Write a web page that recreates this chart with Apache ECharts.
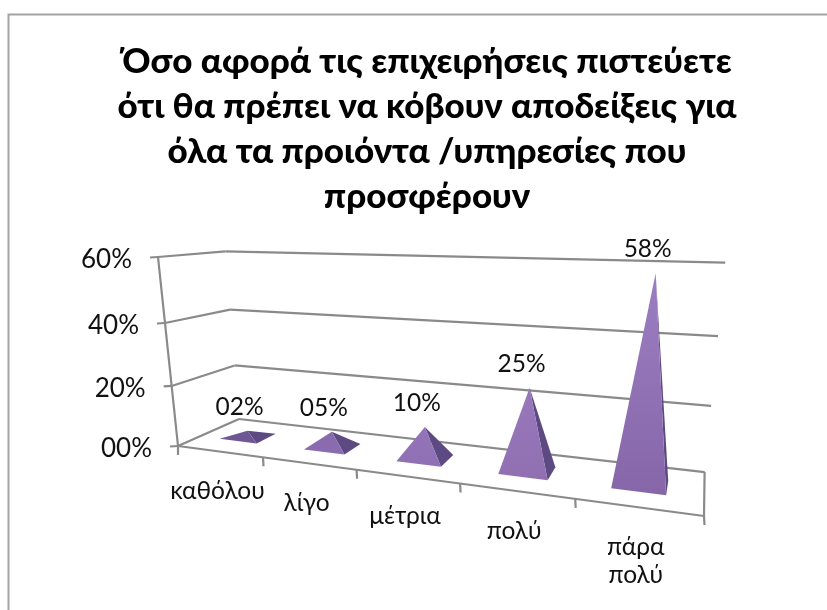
<!DOCTYPE html>
<html>
<head>
<meta charset="utf-8">
<style>html,body{margin:0;padding:0;background:#fff}#c{width:827px;height:610px}</style>
<script src="https://cdn.jsdelivr.net/npm/echarts@6/dist/echarts.min.js"></script>
</head>
<body>
<div id="c"></div>
<script>
const titleLines = [
  'Όσο αφορά τις επιχειρήσεις πιστεύετε',
  'ότι θα πρέπει να κόβουν αποδείξεις για',
  'όλα τα προιόντα /υπηρεσίες που',
  'προσφέρουν'
];
const categories = ['καθόλου', 'λίγο', 'μέτρια', 'πολύ', 'πάρα\nπολύ'];
const values = [2, 5, 10, 25, 58];
const valueTicks = [0, 20, 40, 60];

const W = 827, H = 610;
const FONT = 'Lato,"Open Sans","Noto Sans",sans-serif';
const FS = 24.5;
const LINE = '#8a8a8a';

// Perspective camera of the 3D box: x along categories, y up the value axis, z into depth (all 0..1)
const O = [178, 446], EX = [704, 516], EY = [158, 257], EZ = [239, 419];
const wx = -0.229, wy = -0.068, wz = 0.13;
const ax = [EX[0] * (1 + wx) - O[0], EX[1] * (1 + wx) - O[1]];
const ay = [EY[0] * (1 + wy) - O[0], EY[1] * (1 + wy) - O[1]];
const az = [EZ[0] * (1 + wz) - O[0], EZ[1] * (1 + wz) - O[1]];
function project(x, y, z) {
  const w = 1 + wx * x + wy * y + wz * z;
  return [0, 1].map(i => (O[i] + ax[i] * x + ay[i] * y + az[i] * z) / w);
}
// The hidden full-canvas grid supplies the scales; its pixels are normalised to 0..1
const fx = (api, c) => api.coord([c, 0])[0] / W;
const fy = (api, v) => (H - api.coord([0, v])[1]) / H;

function line(p, q, w) {
  return { type: 'line', shape: { x1: p[0], y1: p[1], x2: q[0], y2: q[1] },
           style: { stroke: LINE, lineWidth: w || 2.2 }, silent: true };
}
function text(t, x, y, opt) {
  return { type: 'text', silent: true,
           style: Object.assign({ text: t, x, y, fill: '#111', fontSize: FS, fontFamily: FONT,
                                  align: 'center', verticalAlign: 'middle' }, opt || {}) };
}

// Walls, floor, axis lines, ticks and axis labels
function renderFrame(params, api) {
  const v = api.value(0);
  const y = fy(api, v);
  const a = project(0, y, 0), b = project(0, y, 1), c = project(1, y, 1);
  const children = [line(a, b), line(b, c),
    line([a[0] - 8, a[1] + 0.5], a),
    text(String(v).padStart(2, '0') + '%', a[0] - 26, a[1] + 3, { align: 'right', fontSize: 26 })];
  if (params.dataIndex === 0) {
    const r = project(1, 0, 0);
    children.push(line(a, r), line(r, project(1, 0, 1)),
                  line(a, project(0, 1, 0)), line(a, [a[0], a[1] + 9]));
  }
  return { type: 'group', children };
}

// Category ticks and labels on the front floor edge
function renderCat(params, api) {
  const band = api.size([1, 0])[0] / W;
  const cx = fx(api, params.dataIndex);
  const t = project(cx + band / 2, 0, 0);
  const m = project(cx, 0, 0);
  return { type: 'group', children: [
    line(t, [t[0] + 0.5, t[1] + 9]),
    text(categories[params.dataIndex], m[0] - 2, m[1] + 26, { verticalAlign: 'top', lineHeight: 28 })
  ] };
}

const FRONT = ['#6f5795', '#886bad', '#9474b9', '#9878bc', '#9b7ec2'];
const FRONT_LOW = ['#6f5795', '#8a6cb0', '#9070b4', '#9070b0', '#8666a8'];
const SIDE = '#5e4a82';
const BASE_W = 0.09, Z0 = 0.33, Z1 = 0.67, SHIFT = -0.005;

function renderPyramid(params, api) {
  const i = params.dataIndex;
  const cx = fx(api, i) + SHIFT, top = fy(api, api.value(1));
  const fl = project(cx - BASE_W / 2, 0, Z0);
  const fr = project(cx + BASE_W / 2, 0, Z0);
  const br = project(cx + BASE_W / 2, 0, Z1);
  const apex = project(cx, top, 0.5);
  return { type: 'group', children: [
    { type: 'polygon', shape: { points: [fr, br, apex] }, style: { fill: SIDE } },
    { type: 'polygon', shape: { points: [fl, fr, apex] }, style: {
        fill: { type: 'linear', x: 0, y: 0, x2: 0, y2: 1,
                colorStops: [{ offset: 0, color: FRONT[i] }, { offset: 1, color: FRONT_LOW[i] }] } } },
    text(String(api.value(1)).padStart(2, '0') + '%', apex[0] - 8, apex[1] - 24)
  ] };
}

const chart = echarts.init(document.getElementById('c'), null, { renderer: 'canvas' });
chart.setOption({
  animation: false,
  backgroundColor: '#fff',
  title: {
    text: titleLines.join('\n'), left: 422, top: 34, textAlign: 'center',
    textStyle: { fontFamily: FONT, fontWeight: 900, fontSize: 35, lineHeight: 45, color: '#000' }
  },
  grid: { left: 0, right: 0, top: 0, bottom: 0 },
  xAxis: { type: 'category', data: categories, show: false },
  yAxis: { type: 'value', min: 0, max: 60, interval: 20, show: false },
  graphic: [
    { type: 'polyline', silent: true, shape: { points: [[8.5, 610], [8.5, 14.5], [827, 14.5]] },
      style: { stroke: '#a3a3a3', lineWidth: 2, fill: null } }
  ],
  series: [
    { type: 'custom', z: 1, data: valueTicks.map(v => [v]), renderItem: renderFrame, encode: { y: 0 }, silent: true },
    { type: 'custom', z: 2, data: categories.map((c, i) => [i]), renderItem: renderCat, encode: { x: 0 }, silent: true },
    { type: 'custom', z: 3, data: values.map((v, i) => [i, v]), renderItem: renderPyramid, encode: { x: 0, y: 1 }, silent: true }
  ]
});
</script>
</body>
</html>
